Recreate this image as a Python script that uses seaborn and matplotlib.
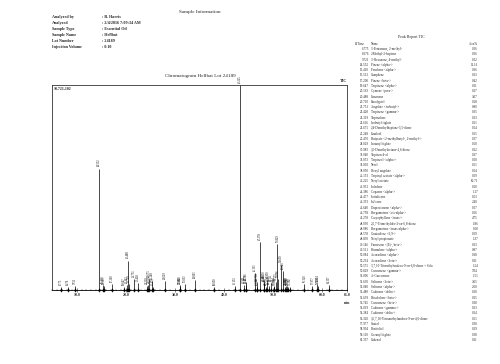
import numpy as np
import matplotlib
matplotlib.use('Agg')
import matplotlib.pyplot as plt
import pandas as pd
import seaborn as sns

sns.set_style('white')
plt.rcParams['font.family'] = ['Liberation Serif', 'DejaVu Serif']

#%% Sample information

infoLabels = ['Analyzed by', 'Analyzed', 'Sample Type', 'Sample Name', 'Lot Number', 'Injection Volume']
infoValues = ['B. Harris', '2/4/2016 7:09:34 AM', 'Essential Oil', 'Hellbat', '24189', '0.10']

#%% Peak report TIC

retTimes = [6.775, 8.276, 9.721, 14.552, 15.410, 15.513, 17.200, 19.647, 20.163, 20.488,
            20.710, 21.751, 22.428, 24.319, 24.616, 24.675, 25.248, 25.470, 28.029, 30.983,
            31.040, 32.053, 34.003, 38.050, 42.153, 43.225, 43.951, 44.386, 44.477, 46.353,
            46.640, 46.758, 47.278, 48.030, 48.086, 48.578, 48.830, 49.146, 49.511, 50.084,
            50.234, 50.575, 50.829, 51.006, 51.630, 52.040, 52.480, 52.639, 52.745, 53.019,
            53.384, 56.320, 57.977, 58.994, 59.110, 61.357]

names = ['3-Pentanone, 2-methyl-', '2-Methyl-2-heptene', '3-Hexanone, 4-methyl-',
         'Pinene <alpha->', 'Fenchene <alpha->', 'Camphene', 'Pinene <beta->',
         'Terpinene <alpha->', 'Cymene <para->', 'Limonene', 'Eucalyptol',
         'Angelate <isobutyl->', 'Terpinene <gamma->', 'Terpinolene', 'Isobutyl tiglate',
         '2,4-Dimethylheptane-3,5-dione', 'Linalool', 'Butyrate <2-methylbutyl-, 2-methyl->',
         'Isoamyl tiglate', '3,5-Dimethyloctane-4,6-dione', 'Terpinen-4-ol',
         'Terpineol <alpha->', 'Nerol', 'Hexyl angelate', 'Terpinyl acetate <alpha->',
         'Neryl acetate', 'Isoledene', 'Copaene <alpha->', 'Isoitalicene', 'Italicene',
         'Duprezianene <alpha->', 'Bergamotene <cis-alpha->', 'Caryophyllene <trans->',
         '2,5,7-Trimethyldec-2-en-6,8-dione', 'Bergamotene <trans-alpha->',
         'Guaiadiene <6,9->', 'Neryl propionate', 'Farnesene <(E)-, beta->',
         'Humulene <alpha->', 'Acoradiene <alpha->', 'Acoradiene <beta->',
         '3,7,10-Trimethylundeca-9-en-6,8-dione + Sela', 'Curcumene <gamma->',
         'Ar-Curcumene', 'Selinene <beta->', 'Selinene <alpha->', 'Cadinene <delta->',
         'Bisabolene <beta->', 'Curcumene <beta->', 'Cadinene <gamma->', 'Cadinene <delta->',
         '3,5,7,10-Tetramethylundeca-9-en-4,6-dione', 'Guaiol', 'Rosifoliol',
         'Geranyl tiglate', 'Cubenol']

areaPct = ['0.06', '0.06', '0.12', '11.16', '0.36', '0.13', '0.42', '0.11', '0.17', '3.07',
           '0.28', '0.80', '0.35', '0.13', '0.21', '0.64', '0.65', '0.07', '0.60', '0.12',
           '0.17', '0.20', '0.61', '0.04', '0.09', '60.71', '0.20', '1.17', '0.63', '2.40',
           '0.07', '0.66', '4.75', '1.86', '1.08', '0.09', '1.37', '0.13', '0.87', '0.18',
           '0.11', '1.24', '7.04', '1.51', '3.65', '2.60', '0.10', '0.15', '0.18', '0.13',
           '0.14', '0.61', '0.08', '0.29', '0.08', '0.11']

# peak heights (counts)
heights = [130000, 130000, 160000, 6330000, 210000, 160000, 270000, 130000, 210000, 1500000,
           270000, 540000, 320000, 160000, 210000, 540000, 430000, 130000, 430000, 160000,
           210000, 270000, 480000, 110000, 160000, 10721102, 210000, 380000, 210000, 860000,
           110000, 380000, 2470000, 480000, 320000, 130000, 480000, 160000, 320000, 160000,
           130000, 380000, 2360000, 540000, 1290000, 970000, 130000, 160000, 160000, 130000,
           130000, 270000, 160000, 270000, 160000, 210000]

yMax = 10721102

df = pd.DataFrame({'rt': retTimes, 'height': heights, 'base': [0]*len(retTimes)})

#%% Figure

W, H = 500, 364
fig = plt.figure(figsize=(5, 3.64), dpi=100)

def fx(px):
    return px/W

def fy(py):
    return 1 - py/H

# header block
fig.text(fx(200), fy(12), 'Sample Information', fontsize=3.7, ha='center', va='center')
for i, (lab, val) in enumerate(zip(infoLabels, infoValues)):
    yy = fy(17.3 + i*5.9)
    fig.text(fx(52), yy, lab, fontsize=3.0, fontweight='bold', ha='left', va='center')
    fig.text(fx(102), yy, ': '+val, fontsize=3.0, fontweight='bold', ha='left', va='center')

fig.text(fx(200), fy(76), 'Chromatogram Hellbat Lot 24189', fontsize=3.7, ha='center', va='center')
fig.text(fx(347), fy(83), 'TIC', fontsize=3.0, fontweight='bold', ha='right', va='bottom')

# chromatogram
axes = fig.add_axes([fx(52), fy(289.5), fx(347-52), (289.5-85)/H])
axes.vlines(df['rt'], 0, df['height'], color='k', linewidth=0.5)
sns.scatterplot(data=df, x='rt', y='base', ax=axes, marker='d', s=3,
                color='k', edgecolor='k', linewidth=0.3, clip_on=False, zorder=3)

for rt, h in zip(retTimes, heights):
    axes.text(rt, h + yMax*0.012, '%.3f' % rt, rotation=90, fontsize=2.0,
              ha='center', va='bottom', color='k')

axes.set_xlim(5, 65)
axes.set_ylim(0, yMax)
axes.set_xticks([10, 20, 30, 40, 50, 60, 65])
axes.set_xticklabels(['10.0', '20.0', '30.0', '40.0', '50.0', '60.0', '65.0'],
                     fontsize=2.8, fontweight='bold')
axes.set_xticks(np.arange(5, 66, 1), minor=True)
axes.tick_params(axis='x', which='major', direction='inout', length=2.5, width=0.4, pad=1.5, bottom=True)
axes.tick_params(axis='x', which='minor', direction='inout', length=1.2, width=0.3, bottom=True)
axes.set_yticks([])
axes.set_xlabel('')
axes.set_ylabel('')
for sp in axes.spines.values():
    sp.set_linewidth(0.6)
    sp.set_color('#333333')
axes.spines['bottom'].set_color('k')

axes.text(0.006, 0.99, '10,721,102', transform=axes.transAxes, fontsize=2.8,
          fontweight='bold', ha='left', va='top')
fig.text(fx(347), fy(302.5), 'min', fontsize=2.8, fontweight='bold', ha='center', va='center')

# peak report table
tf = 2.3
fig.text(fx(411), fy(37), 'Peak Report TIC', fontsize=2.9, ha='center', va='center')
fig.text(fx(355), fy(44), 'R.Time', fontsize=tf, ha='left', va='center')
fig.text(fx(371), fy(44), 'Name', fontsize=tf, ha='left', va='center')
fig.text(fx(478), fy(44), 'Area%', fontsize=tf, ha='right', va='center')
for i in range(len(retTimes)):
    yy = fy(49 + i*5.29)
    fig.text(fx(369), yy, '%.3f' % retTimes[i], fontsize=tf, ha='right', va='center')
    fig.text(fx(371), yy, names[i], fontsize=tf, ha='left', va='center')
    fig.text(fx(478), yy, areaPct[i], fontsize=tf, ha='right', va='center')

plt.savefig('out.png', dpi=100)
plt.close('all')
